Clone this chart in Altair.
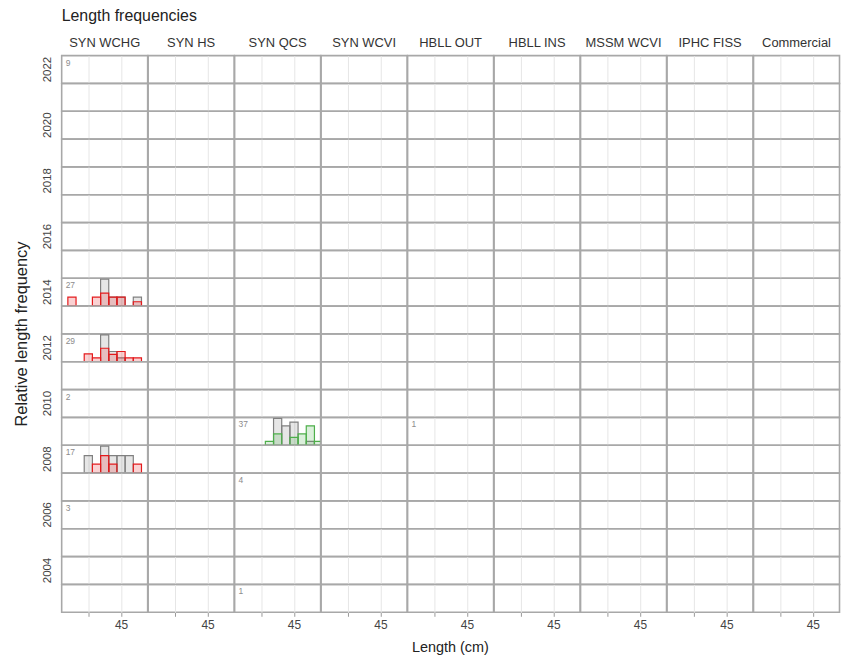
import altair as alt
import pandas as pd

# ---------------- data ----------------
surveys = ["SYN WCHG", "SYN HS", "SYN QCS", "SYN WCVI", "HBLL OUT",
           "HBLL INS", "MSSM WCVI", "IPHC FISS", "Commercial"]
years = list(range(2022, 2002, -1))

# length bin mid-points (cm)
bin_mids = [37.5, 38.75, 40.0, 41.25, 42.5, 43.75, 45.0, 46.25, 47.5, 48.75]

# number of fish measured per survey / year
count_survey = ["SYN WCHG", "SYN WCHG", "SYN WCHG", "SYN WCHG", "SYN WCHG",
                "SYN WCHG", "SYN QCS", "SYN QCS", "SYN QCS", "HBLL OUT"]
count_year = [2022, 2014, 2012, 2010, 2008, 2006, 2009, 2007, 2003, 2009]
count_n = [9, 27, 29, 2, 17, 3, 37, 4, 1, 1]

# relative frequencies per bin (None = no bar); M = grey, F = survey colour
wchg_2014_m = [0, 0, 0, 0, 1.0, 0.33, 0.33, 0, 0.33, 0]
wchg_2014_f = [0.33, None, None, 0.33, 0.48, 0.33, 0.33, None, 0.16, None]
wchg_2012_m = [None, None, 0, 0, 1.0, 0.38, 0.14, 0, 0, None]
wchg_2012_f = [None, None, 0.29, 0.145, 0.5, 0.27, 0.38, 0.145, 0.145, None]
wchg_2008_m = [None, None, 0.65, 0, 1.0, 0.65, 0.65, 0.65, 0, None]
wchg_2008_f = [None, None, None, 0.33, 0.65, 0.33, None, None, 0.33, None]
qcs_2009_m = [None, None, None, 0, 1.0, 0.72, 0.86, 0, 0.145, 0]
qcs_2009_f = [None, None, None, 0.145, 0.42, None, 0.29, 0.42, 0.72, 0.145]

survey_colours = {"SYN WCHG": "#E41A1C", "SYN QCS": "#4DAF4A"}
grey = "#808080"

hist_sets = [
    ("SYN WCHG", 2014, wchg_2014_m, wchg_2014_f),
    ("SYN WCHG", 2012, wchg_2012_m, wchg_2012_f),
    ("SYN WCHG", 2008, wchg_2008_m, wchg_2008_f),
    ("SYN QCS", 2009, qcs_2009_m, qcs_2009_f),
]

rows = []
for s, y, m_vals, f_vals in hist_sets:
    for sex, vals, col in (("M", m_vals, grey), ("F", f_vals, survey_colours[s])):
        for L, v in zip(bin_mids, vals):
            if v is not None:
                rows.append(dict(kind="bar", survey=s, year=y, sex=sex,
                                 length=L, freq=v, col=col, label=""))

lookup = {(s, y): n for s, y, n in zip(count_survey, count_year, count_n)}
for s in surveys:
    for y in years:
        n = lookup.get((s, y))
        rows.append(dict(kind="count", survey=s, year=y, sex="",
                         length=None, freq=None, col="",
                         label="" if n is None else str(n)))

df = pd.DataFrame(rows)

# ---------------- chart ----------------
FONT = "Liberation Sans"
half_bin = 0.625

xscale = alt.Scale(domain=[35.93, 49.07], nice=False, zero=False)
yscale = alt.Scale(domain=[0, 1.03], nice=False)

xaxis = alt.Axis(values=[40, 45], title=None, grid=True, gridColor="#e6e6e6",
                 gridWidth=1, domain=False, tickColor="#999999", tickSize=4,
                 labelExpr="datum.value == 45 ? '45' : ''", labelFontSize=12,
                 labelColor="#444444", labelFont=FONT, labelPadding=3)


def bar_layer(sex):
    return (
        alt.Chart()
        .transform_filter(f"datum.kind == 'bar' && datum.sex == '{sex}'")
        .transform_calculate(x0=f"datum.length - {half_bin}",
                             x1=f"datum.length + {half_bin}")
        .mark_bar(clip=True, strokeWidth=1.2, fillOpacity=0.2, opacity=1)
        .encode(
            x=alt.X("x0:Q", scale=xscale, axis=xaxis),
            x2="x1:Q",
            y=alt.Y("freq:Q", scale=yscale, axis=None),
            y2=alt.datum(0),
            stroke=alt.Stroke("col:N", scale=None),
            fill=alt.Fill("col:N", scale=None),
        )
    )


text = (
    alt.Chart()
    .transform_filter("datum.kind == 'count'")
    .mark_text(align="left", baseline="top", fontSize=8.5, color="#8c8c8c", font=FONT)
    .encode(text="label:N", x=alt.value(4), y=alt.value(3))
)

layered = alt.layer(bar_layer("M"), bar_layer("F"), text).properties(
    width=86.5, height=27.9)

chart = layered.facet(
    row=alt.Row("year:O", sort="descending",
                header=alt.Header(title="Relative length frequency",
                                  labelExpr="datum.value % 2 == 0 ? datum.value : ''",
                                  labelAngle=-90, labelOrient="left",
                                  titleOrient="left", labelFontSize=11.5,
                                  labelColor="#444444", labelFont=FONT,
                                  titleFontSize=16.5, titleFontWeight="normal",
                                  titleColor="#222222", titleFont=FONT,
                                  labelPadding=2, titlePadding=1)),
    column=alt.Column("survey:N", sort=surveys,
                      header=alt.Header(title="Length (cm)", titleOrient="bottom",
                                        labelOrient="top", labelFontSize=13,
                                        labelColor="#333333", labelFont=FONT,
                                        titleFontSize=14.5, titleFontWeight="normal",
                                        titleColor="#222222", titleFont=FONT,
                                        labelPadding=6, titlePadding=1)),
    data=df,
    spacing=0,
    bounds="flush",
).properties(
    title=alt.TitleParams("Length frequencies", anchor="start", fontSize=16,
                          fontWeight="normal", color="#222222", font=FONT,
                          offset=13, frame="group"),
    padding={"left": 6, "top": -2, "right": 0, "bottom": 0},
).configure_view(stroke="#a8a8a8", strokeWidth=1.6)

chart.save("out.html", embed_options={"renderer": "svg", "actions": False})
